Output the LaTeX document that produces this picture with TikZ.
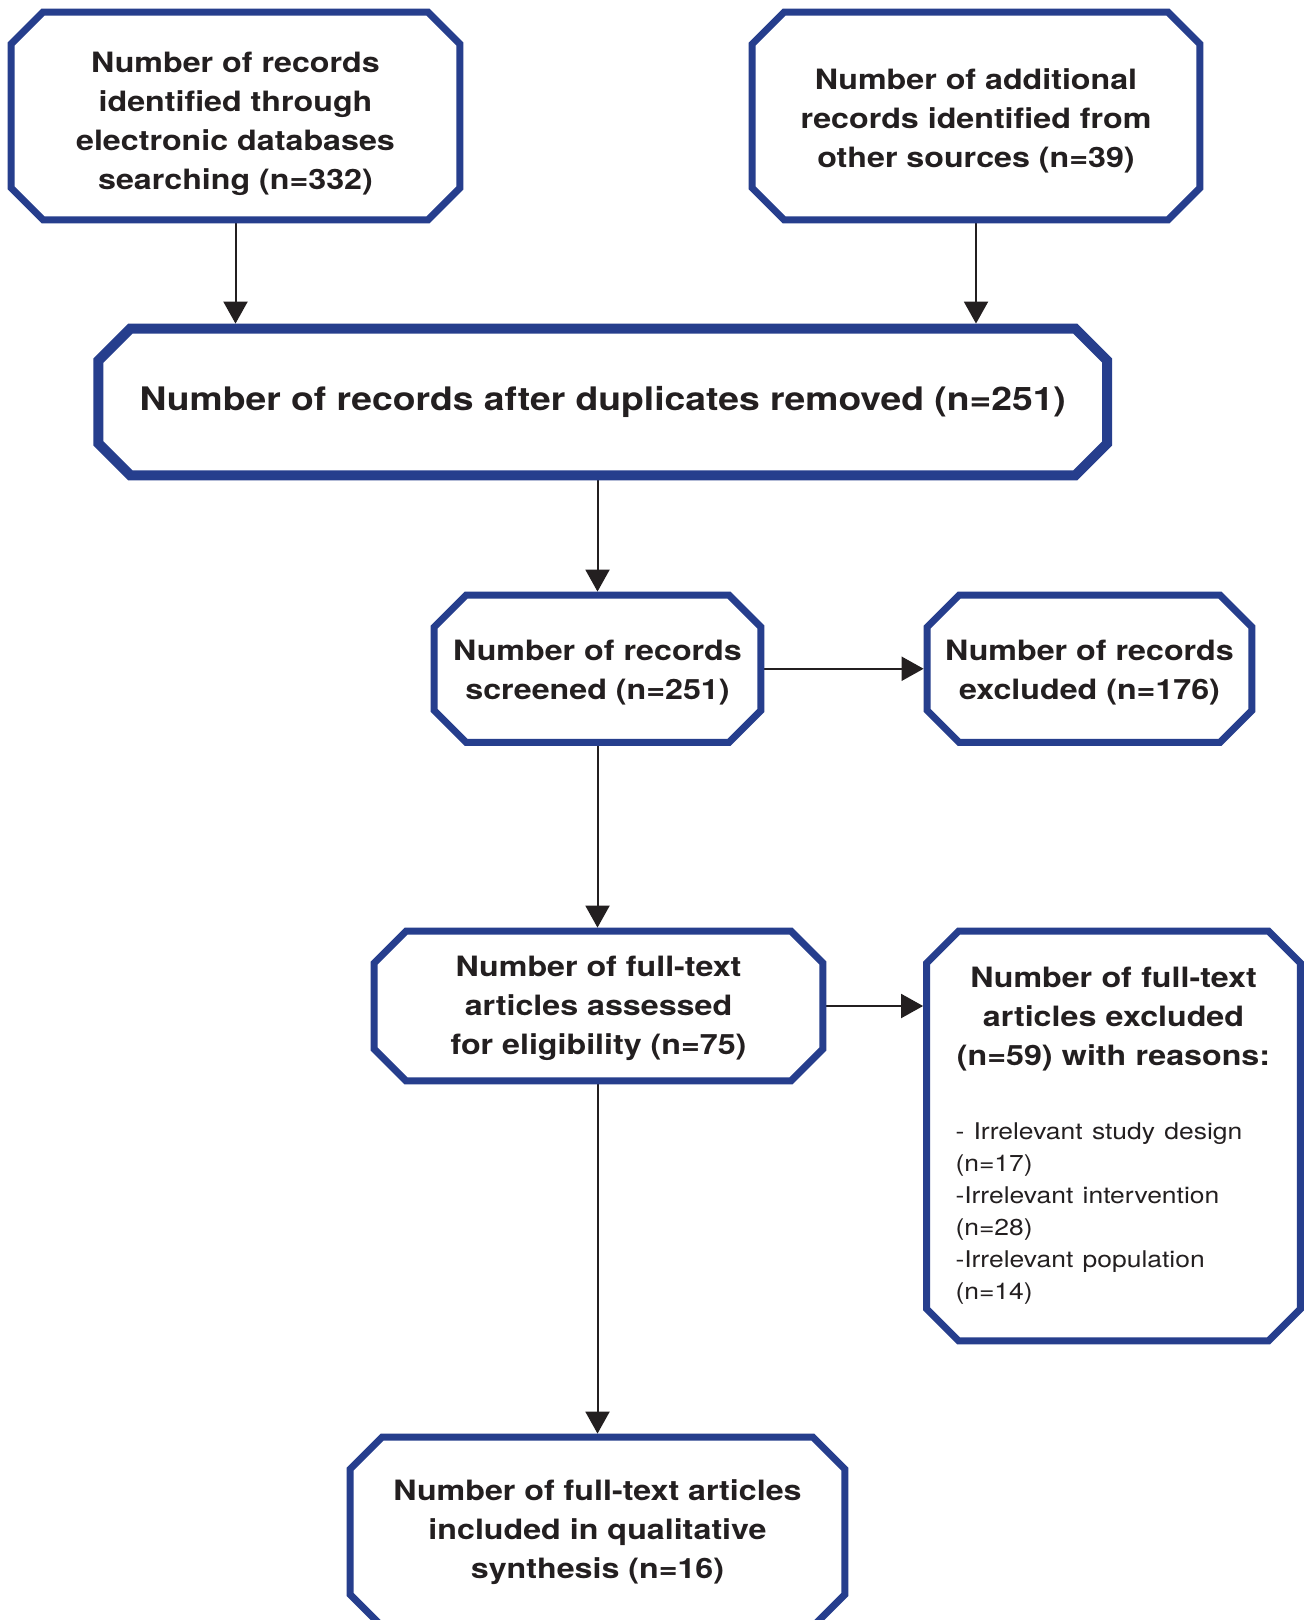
\documentclass[tikz,border=0pt]{standalone}
\usepackage{fontspec}
\setmainfont[FakeStretch=1.15]{TeX Gyre Heros}
\usetikzlibrary{arrows.meta}
\definecolor{frameblue}{RGB}{38,62,141}
\definecolor{ink}{RGB}{35,31,32}

\begin{document}
\begin{tikzpicture}[x=0.5pt, y=-0.5pt,
    box/.style={rectangle, inner sep=0pt, align=center, text=ink,
      font=\bfseries\fontsize{14}{19.5}\selectfont},
    frame/.style={draw=frameblue, line join=miter},
    link/.style={draw=ink, line width=1pt, -{Triangle[width=12pt,length=11pt]}}]
    \useasboundingbox[fill=white] (0,0) rectangle (1311,1620);

    % boxes
    \node[box, minimum width=224pt, minimum height=103.5pt] (ident) at (235.5,116)
        {\rule{0pt}{18.2pt}Number of records\\identified through\\electronic databases\\searching (n=332)};
    \node[box, minimum width=223.5pt, minimum height=103.5pt] (other) at (976,116)
        {\rule{0pt}{15.4pt}Number of additional\\records identified from\\other sources (n=39)};
    \node[box, minimum width=504pt, minimum height=73pt,
        font=\bfseries\fontsize{16.2}{20}\selectfont] (dup) at (602.8,402)
        {Number of records after duplicates removed (n=251)};
    \node[box, minimum width=163pt, minimum height=73.25pt] (screen) at (597.5,668.75)
        {\rule{0pt}{14.4pt}Number of records\\screened (n=251)};
    \node[box, minimum width=162pt, minimum height=73.25pt] (excl) at (1089.5,668.75)
        {\rule{0pt}{14.4pt}Number of records\\excluded (n=176)};
    \node[box, minimum width=224pt, minimum height=74.5pt] (full) at (598.5,1006)
        {\rule{0pt}{12.2pt}Number of full-text\\articles assessed\\for eligibility (n=75)};
    \node[box, minimum width=186.5pt, minimum height=204.5pt, text width=158pt] (reason) at (1113.5,1136)
        {{\centering Number of full-text\\articles excluded\\(n=59) with reasons:\par}
         \vspace{21pt}
         {\raggedright\mdseries\fontsize{11.5}{16}\selectfont
          - Irrelevant study design\\(n=17)\\-Irrelevant intervention\\(n=28)\\-Irrelevant population\\(n=14)\par}};
    \node[box, minimum width=247pt, minimum height=94.25pt] (incl) at (597.5,1531.75)
        {Number of full-text articles\\included in qualitative\\synthesis (n=16)};

    % arrows
    \draw[link, shorten >=2.5pt] (ident) -- (ident |- dup.north);
    \draw[link, shorten >=2.5pt] (other) -- (other |- dup.north);
    \draw[link, shorten >=1.75pt] (screen |- dup.south) -- (screen);
    \draw[link, shorten >=1.75pt] (screen) -- (excl);
    \draw[link, shorten >=1.75pt] (screen) -- (screen |- full.north);
    \draw[link, shorten >=1.75pt] (full.east) -- (full.east -| reason.west);
    \draw[link, shorten >=1.75pt] (incl |- full.south) -- (incl);

    % octagon frames
    \foreach \n/\w in {ident/3.5pt, other/3.5pt, dup/5pt, screen/3.5pt, excl/3.5pt,
                      full/3.5pt, reason/3.5pt, incl/3.5pt}
        \draw[frame, line width=\w]
            ([xshift=16pt]\n.north west) -- ([xshift=-16pt]\n.north east)
            -- ([yshift=-16pt]\n.north east) -- ([yshift=16pt]\n.south east)
            -- ([xshift=-16pt]\n.south east) -- ([xshift=16pt]\n.south west)
            -- ([yshift=16pt]\n.south west) -- ([yshift=-16pt]\n.north west) -- cycle;
\end{tikzpicture}
\end{document}
